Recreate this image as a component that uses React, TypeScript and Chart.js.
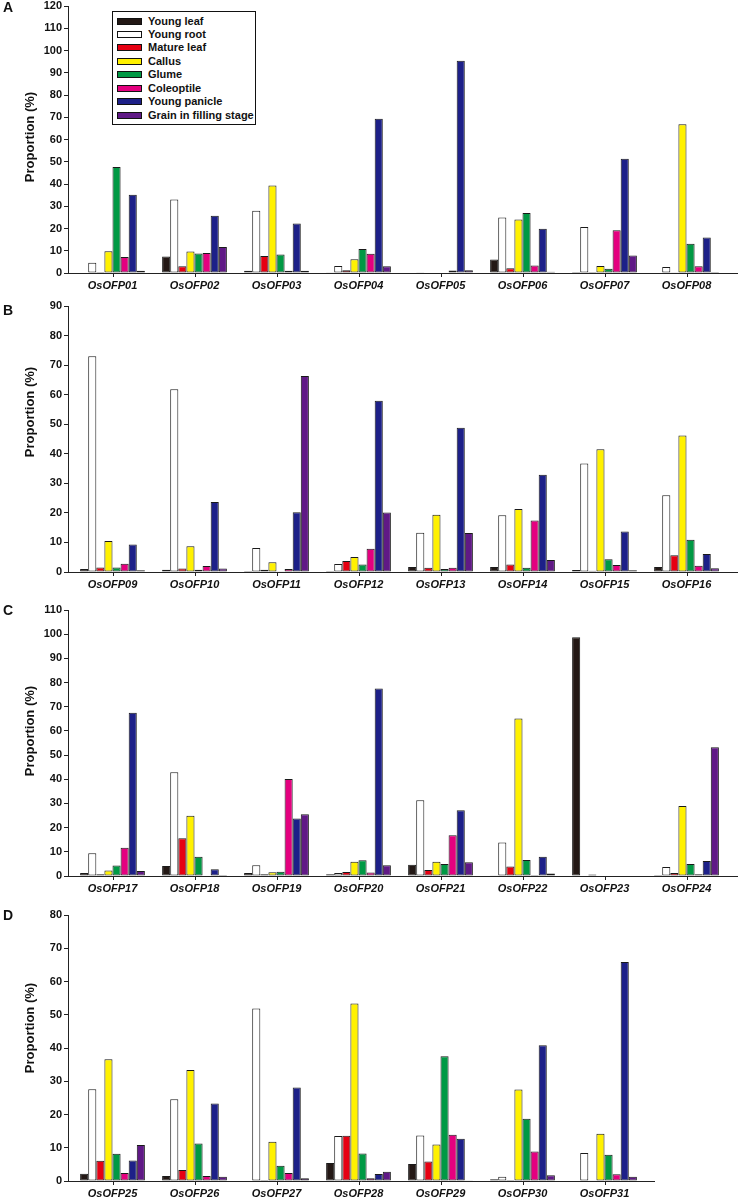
import React, { useEffect, useRef } from 'react';
import { Chart, registerables } from 'chart.js';

Chart.register(...registerables);

// ---------- Data ----------
const tissues = [
  'Young leaf',
  'Young root',
  'Mature leaf',
  'Callus',
  'Glume',
  'Coleoptile',
  'Young panicle',
  'Grain in filling stage',
];
const tissueColors = ['#231815', '#ffffff', '#e60012', '#fff100', '#009944', '#e4007f', '#1d2088', '#601986'];

// values per gene, in tissue order above (proportion, %)
const OsOFP01 = [0.0, 4.6, 0.5, 9.8, 47.6, 7.2, 35.2, 1.0];
const OsOFP02 = [7.4, 33.0, 3.0, 9.7, 8.8, 9.0, 25.7, 11.7];
const OsOFP03 = [1.0, 28.0, 7.6, 39.3, 8.3, 1.0, 22.3, 1.0];
const OsOFP04 = [0.3, 3.2, 1.2, 6.2, 10.8, 8.7, 69.3, 3.0];
const OsOFP05 = [0.0, 0.3, 0.0, 0.0, 0.0, 1.1, 95.4, 1.2];
const OsOFP06 = [6.1, 25.0, 2.1, 24.0, 27.0, 3.4, 19.9, 0.6];
const OsOFP07 = [0.4, 20.7, 0.4, 3.1, 1.9, 19.2, 51.4, 7.9];
const OsOFP08 = [0.0, 2.7, 0.3, 66.8, 13.2, 3.0, 16.0, 0.5];

const OsOFP09 = [1.0, 73.0, 1.5, 10.5, 1.5, 2.8, 9.3, 0.6];
const OsOFP10 = [0.8, 61.8, 1.2, 8.7, 0.8, 2.0, 23.7, 1.2];
const OsOFP11 = [0.3, 8.1, 0.8, 3.3, 0.1, 1.0, 20.2, 66.3];
const OsOFP12 = [0.3, 2.7, 3.7, 5.1, 2.5, 7.9, 57.9, 20.1];
const OsOFP13 = [1.7, 13.3, 1.4, 19.4, 1.0, 1.4, 48.8, 13.2];
const OsOFP14 = [1.7, 19.2, 2.5, 21.3, 1.4, 17.4, 32.9, 4.1];
const OsOFP15 = [0.7, 36.7, 0.4, 41.5, 4.3, 2.4, 13.7, 0.6];
const OsOFP16 = [1.7, 26.0, 5.7, 46.2, 10.9, 2.1, 6.1, 1.3];

const OsOFP17 = [1.2, 9.4, 0.7, 2.3, 4.3, 11.7, 67.5, 2.1];
const OsOFP18 = [4.1, 42.9, 15.6, 24.9, 8.0, 0.0, 2.8, 0.4];
const OsOFP19 = [1.2, 4.4, 0.7, 1.5, 1.8, 40.1, 23.8, 25.5];
const OsOFP20 = [0.7, 1.2, 1.7, 5.9, 6.5, 1.4, 77.5, 4.4];
const OsOFP21 = [4.7, 31.3, 2.5, 5.9, 5.0, 16.8, 27.2, 5.7];
const OsOFP22 = [0.3, 13.9, 3.9, 65.1, 6.6, 0.4, 8.0, 1.0];
const OsOFP23 = [98.7, 0.2, 0.6, 0.2, 0.2, 0.0, 0.0, 0.0];
const OsOFP24 = [0.4, 3.7, 1.2, 28.9, 5.0, 0.7, 6.2, 53.2];

const OsOFP25 = [2.2, 27.6, 6.1, 36.6, 8.2, 2.4, 6.2, 10.8];
const OsOFP26 = [1.5, 24.6, 3.3, 33.4, 11.3, 1.5, 23.3, 1.3];
const OsOFP27 = [0.0, 51.9, 0.3, 11.8, 4.6, 2.4, 28.1, 0.8];
const OsOFP28 = [5.4, 13.5, 13.6, 53.4, 8.3, 0.8, 2.1, 2.8];
const OsOFP29 = [5.1, 13.7, 5.9, 11.0, 37.5, 13.9, 12.7, 0.2];
const OsOFP30 = [0.5, 1.3, 0.3, 27.5, 18.7, 8.9, 40.8, 1.7];
const OsOFP31 = [0.0, 8.4, 0.2, 14.2, 7.9, 2.0, 65.9, 1.3];

const panelAGenes = ['OsOFP01', 'OsOFP02', 'OsOFP03', 'OsOFP04', 'OsOFP05', 'OsOFP06', 'OsOFP07', 'OsOFP08'];
const panelARows = [OsOFP01, OsOFP02, OsOFP03, OsOFP04, OsOFP05, OsOFP06, OsOFP07, OsOFP08];
const panelBGenes = ['OsOFP09', 'OsOFP10', 'OsOFP11', 'OsOFP12', 'OsOFP13', 'OsOFP14', 'OsOFP15', 'OsOFP16'];
const panelBRows = [OsOFP09, OsOFP10, OsOFP11, OsOFP12, OsOFP13, OsOFP14, OsOFP15, OsOFP16];
const panelCGenes = ['OsOFP17', 'OsOFP18', 'OsOFP19', 'OsOFP20', 'OsOFP21', 'OsOFP22', 'OsOFP23', 'OsOFP24'];
const panelCRows = [OsOFP17, OsOFP18, OsOFP19, OsOFP20, OsOFP21, OsOFP22, OsOFP23, OsOFP24];
const panelDGenes = ['OsOFP25', 'OsOFP26', 'OsOFP27', 'OsOFP28', 'OsOFP29', 'OsOFP30', 'OsOFP31'];
const panelDRows = [OsOFP25, OsOFP26, OsOFP27, OsOFP28, OsOFP29, OsOFP30, OsOFP31];

const yMaxA = 120;
const yMaxB = 90;
const yMaxC = 110;
const yMaxD = 80;

const yAxisTitle = 'Proportion (%)';

// ---------- Layout ----------
const FONT = "'Liberation Sans', Arial, Helvetica, sans-serif";
const AXIS_X = 68;
const PAD_TOP = 6;
const X_AXIS_H = 22;
const UNIT = 82; // px per category
const FIRST_OFFSET = 44.5; // px from y axis to first category centre
const AXIS_COLOR = '#222';

const panels = [
  { letter: 'A', genes: panelAGenes, rows: panelARows, yMax: yMaxA, plotTop: 6, plotBottom: 273, plotRight: 737, titleY: 137, letterTop: 0 },
  { letter: 'B', genes: panelBGenes, rows: panelBRows, yMax: yMaxB, plotTop: 306, plotBottom: 572, plotRight: 737, titleY: 412, letterTop: 303 },
  { letter: 'C', genes: panelCGenes, rows: panelCRows, yMax: yMaxC, plotTop: 610, plotBottom: 876, plotRight: 737, titleY: 731, letterTop: 603 },
  { letter: 'D', genes: panelDGenes, rows: panelDRows, yMax: yMaxD, plotTop: 915, plotBottom: 1181, plotRight: 654, titleY: 1028, letterTop: 908 },
];

// small tick marks under the x axis at each category centre
const xTickMarks = {
  id: 'xTickMarks',
  afterDraw(chart: any) {
    const xs = chart.scales.x;
    const ctx = chart.ctx;
    const y0 = chart.chartArea.bottom;
    ctx.save();
    ctx.strokeStyle = AXIS_COLOR;
    ctx.lineWidth = 1;
    ctx.beginPath();
    (xs.ticks || []).forEach((t: any) => {
      const px = Math.round(xs.getPixelForValue(t.value)) + 0.5;
      ctx.moveTo(px, y0);
      ctx.lineTo(px, y0 + 4);
    });
    ctx.stroke();
    ctx.restore();
  },
};

type PanelProps = {
  genes: string[];
  rows: number[][];
  yMax: number;
  plotTop: number;
  plotBottom: number;
  plotRight: number;
};

function PanelChart({ genes, rows, yMax, plotTop, plotBottom, plotRight }: PanelProps) {
  const ref = useRef<HTMLCanvasElement>(null);
  const plotH = plotBottom - plotTop;
  const canvasH = PAD_TOP + plotH + X_AXIS_H;

  useEffect(() => {
    if (!ref.current) return;
    const datasets = tissues.map((t, k) => ({
      label: t,
      data: rows.map((r, i) => ({ x: i, y: r[k] })),
      backgroundColor: tissueColors[k],
      borderColor: '#1a1a1a',
      borderWidth: 1,
      borderSkipped: false,
      categoryPercentage: 0.79,
      barPercentage: 1,
    }));
    const xmin = -FIRST_OFFSET / UNIT;
    const xmax = xmin + (plotRight - AXIS_X) / UNIT;
    const chart = new Chart(ref.current, {
      type: 'bar',
      data: { datasets: datasets as any },
      plugins: [xTickMarks],
      options: {
        responsive: false,
        animation: false,
        layout: { padding: { top: PAD_TOP, right: 738 - plotRight, bottom: 0, left: 0 } },
        plugins: { legend: { display: false }, tooltip: { enabled: false } },
        scales: {
          x: {
            type: 'linear',
            min: xmin,
            max: xmax,
            bounds: 'data',
            offset: false,
            afterBuildTicks: (s: any) => {
              s.ticks = genes.map((_, i) => ({ value: i }));
            },
            afterFit: (s: any) => {
              s.height = X_AXIS_H;
              s.paddingLeft = 0;
              s.paddingRight = 0;
            },
            ticks: {
              callback: (v: any) => genes[Math.round(Number(v))] ?? '',
              autoSkip: false,
              maxRotation: 0,
              minRotation: 0,
              padding: 6,
              color: '#111',
              font: { family: FONT, size: 11, weight: 'bold', style: 'italic' },
            },
            grid: { display: false, drawTicks: false },
            border: { display: true, color: AXIS_COLOR, width: 1 },
          },
          y: {
            min: 0,
            max: yMax,
            afterFit: (s: any) => {
              s.width = AXIS_X;
              s.paddingTop = 0;
              s.paddingBottom = 0;
            },
            ticks: {
              stepSize: 10,
              padding: 2,
              color: '#111',
              font: { family: FONT, size: 11, weight: 'bold' },
            },
            grid: {
              display: true,
              offset: false,
              drawOnChartArea: false,
              drawTicks: true,
              tickLength: 4,
              color: AXIS_COLOR,
              lineWidth: 1,
            },
            border: { display: true, color: AXIS_COLOR, width: 1 },
          },
        },
      } as any,
    });
    return () => chart.destroy();
  }, []);

  return (
    <canvas
      ref={ref}
      width={738}
      height={canvasH}
      style={{ position: 'absolute', left: 0, top: plotTop - PAD_TOP, width: 738, height: canvasH, display: 'block' }}
    />
  );
}

function Legend() {
  const left = 112;
  const top = 11;
  const rowStart = 21;
  const rowStep = 13.45;
  return (
    <>
      <div
        style={{
          position: 'absolute',
          left,
          top,
          width: 144,
          height: 114,
          border: '1px solid #111',
          boxSizing: 'border-box',
          background: '#fff',
        }}
      />
      {tissues.map((t, i) => {
        const cy = rowStart + i * rowStep;
        return (
          <React.Fragment key={t}>
            <div
              style={{
                position: 'absolute',
                left: 117,
                top: cy - 3.5,
                width: 25,
                height: 7,
                background: tissueColors[i],
                border: '1px solid #111',
                boxSizing: 'border-box',
              }}
            />
            <div
              style={{
                position: 'absolute',
                left: 148,
                top: cy - 6.5,
                height: 13,
                lineHeight: '13px',
                fontSize: 11,
                fontWeight: 'bold',
                fontFamily: FONT,
                color: '#111',
                whiteSpace: 'nowrap',
              }}
            >
              {t}
            </div>
          </React.Fragment>
        );
      })}
    </>
  );
}

export default function App() {
  return (
    <div
      style={{
        position: 'absolute',
        left: 0,
        top: 0,
        width: 738,
        height: 1199,
        overflow: 'hidden',
        background: '#fff',
        fontFamily: FONT,
      }}
    >
      {panels.map((p) => (
        <React.Fragment key={p.letter}>
          <PanelChart
            genes={p.genes}
            rows={p.rows}
            yMax={p.yMax}
            plotTop={p.plotTop}
            plotBottom={p.plotBottom}
            plotRight={p.plotRight}
          />
          <div
            style={{
              position: 'absolute',
              left: 3,
              top: p.letterTop,
              fontSize: 14,
              lineHeight: '14px',
              fontWeight: 'bold',
              color: '#111',
              fontFamily: FONT,
            }}
          >
            {p.letter}
          </div>
          <div
            style={{
              position: 'absolute',
              left: 29,
              top: p.titleY,
              transform: 'translate(-50%, -50%) rotate(-90deg)',
              fontSize: 13,
              lineHeight: '15px',
              fontWeight: 'bold',
              whiteSpace: 'nowrap',
              color: '#111',
              fontFamily: FONT,
            }}
          >
            {yAxisTitle}
          </div>
        </React.Fragment>
      ))}
      <Legend />
    </div>
  );
}
